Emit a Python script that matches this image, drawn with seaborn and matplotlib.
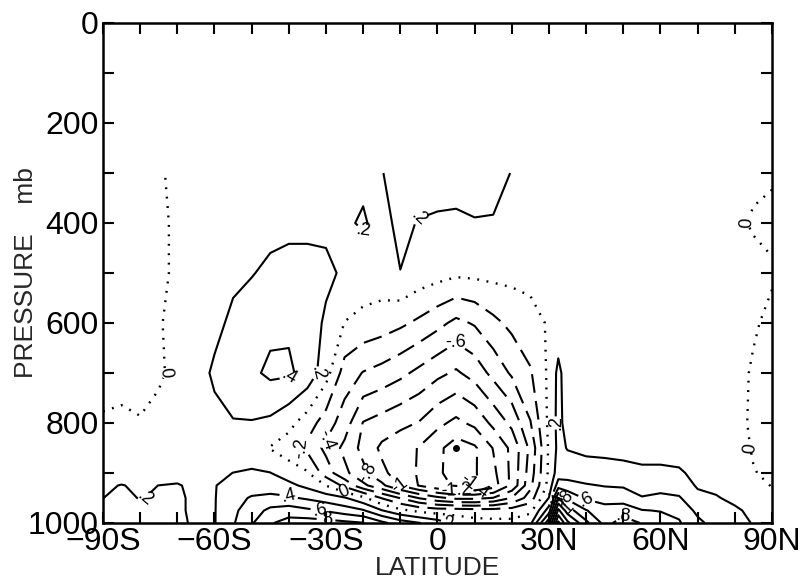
import numpy as np
import matplotlib
matplotlib.use("Agg")
import matplotlib.pyplot as plt
import seaborn as sns

# ---------------- data ----------------
latitudes = [-90, -85, -80, -75, -70, -65, -60, -55, -50, -45, -40, -35, -30, -25,
             -20, -15, -10, -5, 0, 5, 10, 15, 20, 25, 30, 32.5, 35, 40, 45, 50,
             55, 60, 65, 70, 75, 80, 85, 90]
pressures = [300, 400, 500, 600, 700, 800, 850, 900, 925, 950, 975, 1000]

p300 = [-0.04, -0.03, -0.02, -0.005, 0.01, 0.03, 0.05, 0.06, 0.08, 0.09,
        0.10, 0.11, 0.12, 0.13, 0.17, 0.195, 0.25, 0.30, 0.30, 0.30,
        0.28, 0.25, 0.195, 0.15, 0.12, 0.11, 0.10, 0.08, 0.08, 0.08,
        0.08, 0.08, 0.08, 0.08, 0.06, 0.04, 0.02, 0.01]
p400 = [-0.05, -0.04, -0.03, -0.012, 0.01, 0.04, 0.07, 0.10, 0.12, 0.14,
        0.15, 0.15, 0.16, 0.18, 0.215, 0.15, 0.24, 0.19, 0.17, 0.16,
        0.19, 0.19, 0.16, 0.12, 0.10, 0.09, 0.09, 0.08, 0.08, 0.08,
        0.08, 0.08, 0.08, 0.08, 0.06, 0.02, -0.01, -0.02]
p500 = [-0.05, -0.04, -0.03, -0.012, 0.01, 0.06, 0.12, 0.16, 0.19, 0.24,
        0.27, 0.27, 0.24, 0.17, 0.12, 0.12, 0.197, 0.12, 0.08, 0.04,
        0.05, 0.06, 0.06, 0.06, 0.07, 0.07, 0.08, 0.08, 0.08, 0.08,
        0.08, 0.08, 0.08, 0.08, 0.07, 0.05, 0.03, 0.01]
p600 = [-0.05, -0.04, -0.03, -0.008, 0.03, 0.08, 0.15, 0.24, 0.30, 0.35,
        0.37, 0.30, 0.17, -0.005, -0.06, -0.10, -0.16, -0.24, -0.34, -0.45,
        -0.38, -0.25, -0.15, -0.07, 0.02, 0.08, 0.06, 0.07, 0.07, 0.07,
        0.07, 0.07, 0.07, 0.07, 0.06, 0.04, 0.01, -0.02]
p700 = [-0.05, -0.045, -0.03, -0.02, 0.04, 0.12, 0.23, 0.30, 0.36, 0.44,
        0.43, 0.33, 0.08, -0.29, -0.41, -0.47, -0.55, -0.65, -0.75, -0.83,
        -0.72, -0.54, -0.37, -0.22, 0.04, 0.25, 0.10, 0.08, 0.08, 0.08,
        0.08, 0.08, 0.08, 0.08, 0.07, 0.03, -0.01, -0.03]
p800 = [0.015, 0.025, 0.005, 0.04, 0.06, 0.10, 0.15, 0.19, 0.19, 0.16,
        0.06, -0.10, -0.30, -0.50, -0.81, -0.88, -0.95, -1.01, -1.15, -1.25,
        -1.15, -0.95, -0.75, -0.41, 0.05, 0.26, 0.12, 0.09, 0.09, 0.09,
        0.09, 0.09, 0.09, 0.09, 0.07, 0.03, -0.015, -0.03]
p850 = [0.05, 0.06, 0.06, 0.07, 0.08, 0.10, 0.13, 0.14, 0.10, -0.01,
        -0.10, -0.25, -0.45, -0.65, -0.86, -1.04, -1.12, -1.21, -1.35, -1.50,
        -1.43, -1.19, -0.95, -0.55, 0.03, 0.25, 0.19, 0.16, 0.16, 0.15,
        0.14, 0.14, 0.13, 0.12, 0.10, 0.05, -0.01, -0.02]
p900 = [0.12, 0.14, 0.13, 0.13, 0.15, 0.16, 0.18, 0.201, 0.22, 0.205,
        0.10, 0.02, -0.30, -0.55, -0.75, -0.95, -1.10, -1.22, -1.38, -1.45,
        -1.42, -1.25, -0.95, -0.50, 0.04, 0.30, 0.30, 0.28, 0.26, 0.25,
        0.23, 0.23, 0.22, 0.16, 0.15, 0.10, 0.005, -0.02]
p925 = [0.18, 0.205, 0.18, 0.201, 0.21, 0.17, 0.19, 0.28, 0.30, 0.30,
        0.25, 0.15, -0.005, -0.25, -0.55, -0.75, -1.01, -1.21, -1.35, -1.42,
        -1.42, -1.30, -0.95, -0.45, 0.08, 0.50, 0.48, 0.42, 0.39, 0.38,
        0.33, 0.32, 0.30, 0.18, 0.17, 0.13, 0.04, -0.005]
p950 = [0.198, 0.25, 0.19, 0.23, 0.24, 0.15, 0.19, 0.33, 0.42, 0.45,
        0.43, 0.37, 0.30, 0.22, 0.05, -0.21, -0.41, -0.61, -0.75, -0.85,
        -0.85, -0.79, -0.59, -0.30, 0.21, 1.00, 0.75, 0.57, 0.52, 0.50,
        0.41, 0.45, 0.42, 0.25, 0.21, 0.17, 0.08, 0.02]
p975 = [0.24, 0.28, 0.24, 0.26, 0.24, 0.15, 0.19, 0.36, 0.50, 0.65,
        0.70, 0.64, 0.58, 0.50, 0.42, 0.21, 0.05, -0.05, -0.10, -0.10,
        -0.12, -0.12, -0.10, -0.05, 0.50, 1.45, 1.10, 0.81, 0.68, 0.72,
        0.61, 0.59, 0.55, 0.35, 0.26, 0.22, 0.17, 0.10]
p1000 = [0.27, 0.30, 0.28, 0.28, 0.24, 0.17, 0.19, 0.38, 0.58, 0.78,
         0.88, 0.90, 0.88, 0.85, 0.81, 0.65, 0.50, 0.41, 0.30, 0.15,
         0.08, 0.06, 0.05, 0.15, 0.95, 1.85, 1.45, 1.05, 0.74, 0.88,
         0.79, 0.70, 0.62, 0.45, 0.32, 0.26, 0.19, 0.15]

negative_levels = [-1.4, -1.2, -1.0, -0.8, -0.6, -0.4, -0.2]
zero_levels = [0.0]
positive_levels = [0.2, 0.4, 0.6, 0.8, 1.0, 1.2, 1.4, 1.6, 1.8]

x_label_values = [-90, -60, -30, 0, 30, 60, 90]
x_label_texts = ["\u221290S", "\u221260S", "\u221230S", "0", "30N", "60N", "90N"]
y_label_values = [0, 200, 400, 600, 800, 1000]
y_label_texts = ["0", "200", "400", "600", "800", "1000"]

# ---------------- figure ----------------
sns.set_theme(style="ticks")
plt.rcParams["font.family"] = ["Liberation Sans", "DejaVu Sans"]
plt.rcParams["axes.edgecolor"] = "black"

field = np.array([p300, p400, p500, p600, p700, p800, p850, p900,
                  p925, p950, p975, p1000])
X, Y = np.meshgrid(latitudes, pressures)

fig = plt.figure(figsize=(8.12, 5.8), dpi=100)
ax = fig.add_axes([103 / 812, 57 / 580, 669 / 812, 500 / 580])


def fmt(v):
    if abs(v) < 1e-9:
        return "0"
    s = f"{v:.1f}".rstrip("0").rstrip(".")
    if s.startswith("0."):
        s = s[1:]
    elif s.startswith("-0."):
        s = "-" + s[2:]
    return s


cs_neg = ax.contour(X, Y, field, levels=negative_levels, colors="black",
                    linewidths=1.5)
cs_neg.set_linestyle((0, (9, 4)))
cs_zero = ax.contour(X, Y, field, levels=zero_levels, colors="black",
                     linewidths=1.7)
cs_zero.set_linestyle((0, (0.8, 3.2)))
cs_pos = ax.contour(X, Y, field, levels=positive_levels, colors="black",
                    linewidths=1.5, linestyles="solid")

for cs in (cs_neg, cs_zero, cs_pos):
    ax.clabel(cs, fmt=fmt, fontsize=13, inline=True, inline_spacing=2)

# minimum marker derived from the data
imin = np.unravel_index(np.argmin(field), field.shape)
ax.plot(latitudes[imin[1]], pressures[imin[0]], "o", color="black", ms=4)

ax.set_xlim(-90, 90)
ax.set_ylim(1000, 0)

xt = np.arange(-90, 91, 10)
ax.set_xticks(xt)
ax.set_xticklabels([x_label_texts[x_label_values.index(v)] if v in x_label_values else ""
                    for v in xt])
yt = np.arange(0, 1001, 100)
ax.set_yticks(yt)
ax.set_yticklabels([y_label_texts[y_label_values.index(v)] if v in y_label_values else ""
                    for v in yt])

ax.tick_params(direction="in", top=True, right=True, length=8, width=1.5,
               labelsize=23, pad=3, colors="black")
for sp in ax.spines.values():
    sp.set_linewidth(1.8)
    sp.set_color("black")

ax.set_xlabel("LATITUDE", fontsize=19)
ax.set_ylabel("PRESSURE    mb", fontsize=19)
ax.xaxis.set_label_coords(0.5, -0.066)
ax.xaxis.label.set_va("top")
ax.yaxis.set_label_coords(-0.097, 0.5)

fig.savefig("out.png", dpi=100, facecolor="white")
